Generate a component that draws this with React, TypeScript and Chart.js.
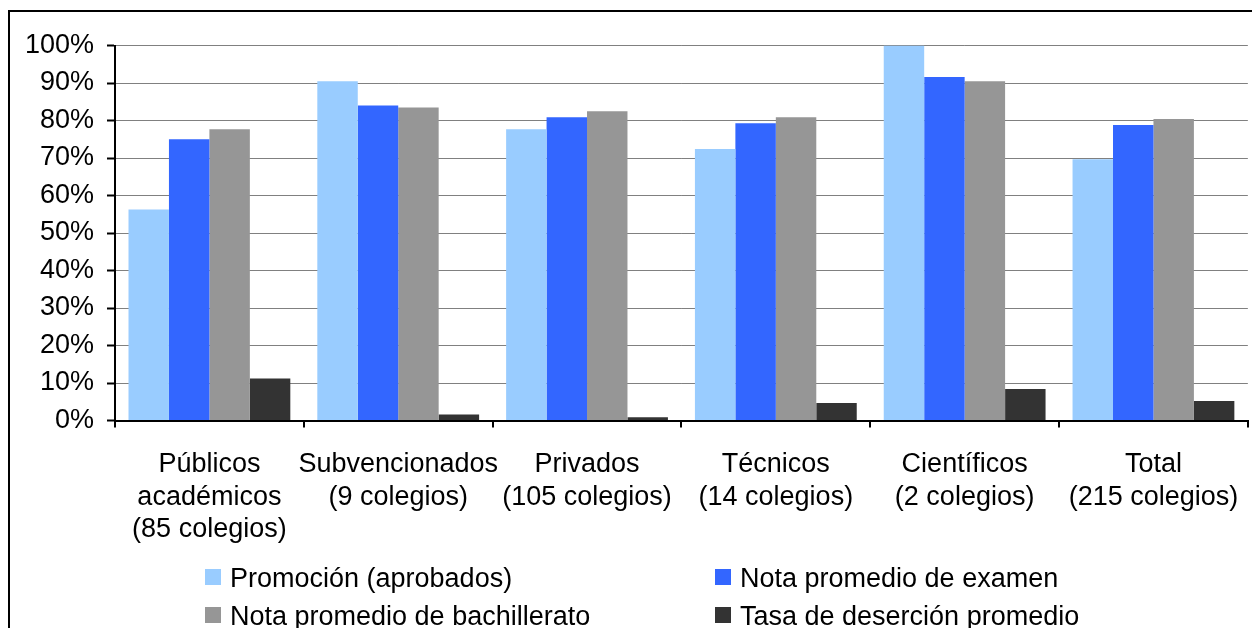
import React, { useEffect, useRef } from "react";
import { Chart, registerables } from "chart.js";

Chart.register(...registerables);

const categories: string[][] = [
  ["Públicos", "académicos", "(85 colegios)"],
  ["Subvencionados", "(9 colegios)"],
  ["Privados", "(105 colegios)"],
  ["Técnicos", "(14 colegios)"],
  ["Científicos", "(2 colegios)"],
  ["Total", "(215 colegios)"],
];

const seriesNames = [
  "Promoción (aprobados)",
  "Nota promedio de examen",
  "Nota promedio de bachillerato",
  "Tasa de deserción promedio",
];

const promocion = [56.3, 90.5, 77.7, 72.4, 100, 69.7];
const notaExamen = [75.0, 84.0, 80.9, 79.3, 91.6, 78.8];
const notaBachillerato = [77.7, 83.5, 82.5, 80.9, 90.5, 80.4];
const desercion = [11.2, 1.6, 0.9, 4.7, 8.4, 5.2];

const colors = ["#99CCFF", "#3366FF", "#969696", "#333333"];

const FONT = "'Liberation Sans', Arial, sans-serif";

export default function App() {
  const ref = useRef<HTMLCanvasElement | null>(null);

  useEffect(() => {
    document.documentElement.style.overflow = "hidden";
    const canvas = ref.current;
    if (!canvas) return;
    const values = [promocion, notaExamen, notaBachillerato, desercion];
    const chart = new Chart(canvas, {
      type: "bar",
      data: {
        labels: categories,
        datasets: seriesNames.map((name, i) => ({
          label: name,
          data: values[i],
          backgroundColor: colors[i],
          borderWidth: 0,
          categoryPercentage: 0.857,
          barPercentage: 1,
        })),
      },
      options: {
        responsive: false,
        animation: false,
        layout: { padding: { left: 0, right: 9, top: 37.5, bottom: 85.5 } },
        plugins: { legend: { display: false }, tooltip: { enabled: false } },
        scales: {
          x: {
            afterFit: (s: any) => {
              s.height = 130;
            },
            grid: {
              drawOnChartArea: false,
              drawTicks: true,
              tickLength: 7,
              tickColor: "#000",
              lineWidth: 2,
              offset: true,
            },
            border: { color: "#000", width: 2 },
            ticks: {
              color: "#000",
              font: { family: FONT, size: 27, lineHeight: 1.2 },
              padding: 21,
              maxRotation: 0,
              autoSkip: false,
            },
          },
          y: {
            min: 0,
            max: 100,
            afterFit: (s: any) => {
              s.width = 107;
            },
            grid: {
              color: "#808080",
              lineWidth: 1,
              tickLength: 8,
              tickColor: "#000",
              tickWidth: 2,
            },
            border: { color: "#000", width: 2 },
            ticks: {
              stepSize: 10,
              color: "#000",
              padding: 13,
              font: { family: FONT, size: 27 },
              callback: (v: any) => v + "%",
            },
          },
        },
      },
    });
    return () => chart.destroy();
  }, []);

  const legendItem = (i: number, left: number, top: number) => (
    <React.Fragment key={i}>
      <div
        style={{
          position: "absolute",
          left,
          top,
          width: 16,
          height: 16,
          background: colors[i],
        }}
      />
      <div
        style={{
          position: "absolute",
          left: left + 25,
          top: top - 6.3,
          fontFamily: FONT,
          fontSize: 27,
          lineHeight: "30px",
          color: "#000",
          whiteSpace: "nowrap",
        }}
      >
        {seriesNames[i]}
      </div>
    </React.Fragment>
  );

  return (
    <div
      style={{
        position: "relative",
        width: 1252,
        height: 628,
        marginBottom: -8,
        overflow: "hidden",
      }}
    >
      <div
        style={{
          position: "absolute",
          left: 0,
          top: 2,
          width: 1300,
          height: 700,
          border: "2px solid #000",
          boxSizing: "border-box",
        }}
      />
      <canvas
        ref={ref}
        width={1252}
        height={628}
        style={{ position: "absolute", left: 0, top: 0, width: 1252, height: 628 }}
      />
      {legendItem(0, 197, 561)}
      {legendItem(1, 707, 561)}
      {legendItem(2, 197, 599)}
      {legendItem(3, 707, 599)}
    </div>
  );
}
